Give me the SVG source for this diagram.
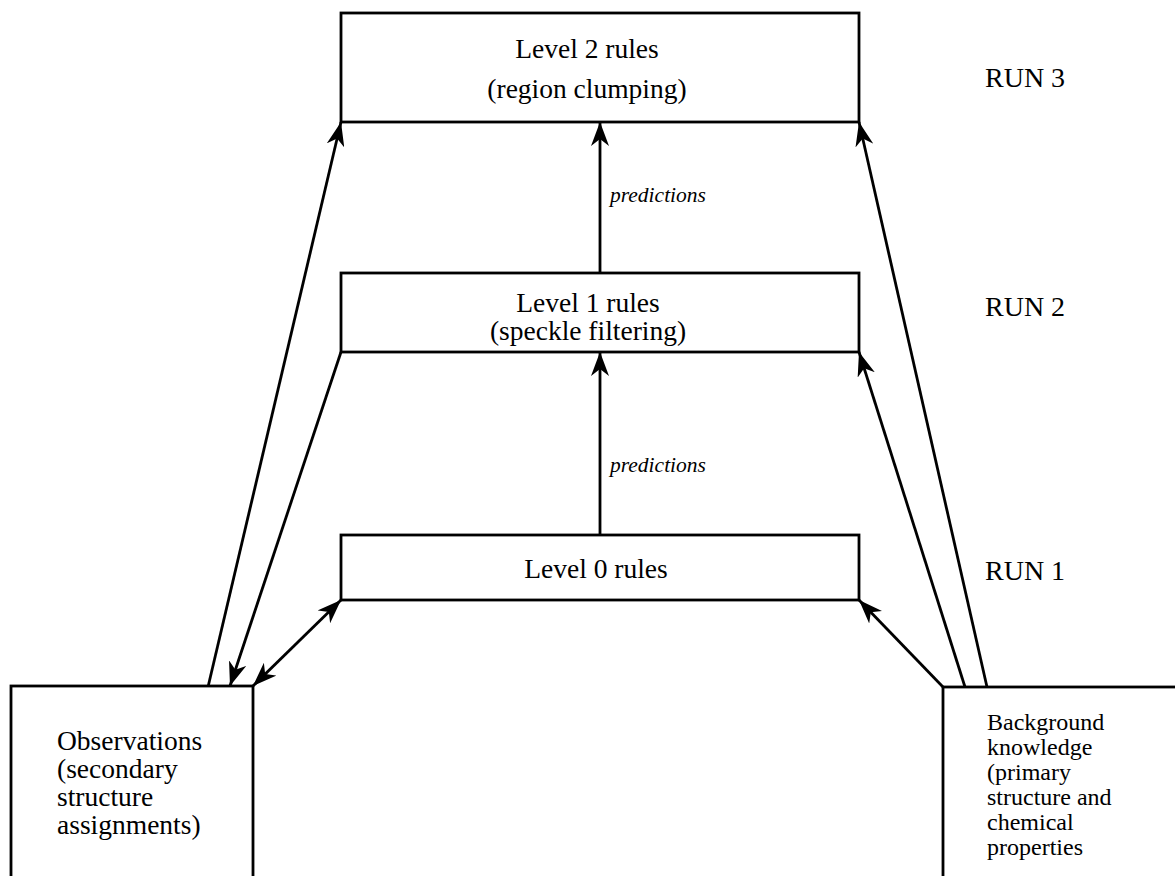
<svg xmlns="http://www.w3.org/2000/svg" width="1175" height="876" viewBox="0 0 1175 876">
<style>
.box{fill:#fff;stroke:#000;stroke-width:2.8}
.t{font-family:"Liberation Serif","Times New Roman",serif;font-size:27.5px;fill:#000}
.c{text-anchor:middle}
.i{font-style:italic;font-size:21.5px}
.s{font-size:24px}
.r{font-size:28px}
.ln{stroke:#000;stroke-width:2.8;fill:none}
</style>
<defs>
<marker id="ah" viewBox="0 0 24 18" refX="24" refY="9" markerWidth="24" markerHeight="18" markerUnits="userSpaceOnUse" orient="auto-start-reverse">
<path d="M0,0 L24,9 L0,18 L7,9 Z" fill="#000"/>
</marker>
</defs>
<rect width="1175" height="876" fill="#fff"/>
<g id="connectors">
<line class="ln" x1="208" y1="687" x2="341" y2="122" marker-end="url(#ah)"/>
<line class="ln" x1="341" y1="352" x2="230" y2="686" marker-end="url(#ah)"/>
<line class="ln" x1="253" y1="686" x2="341" y2="600" marker-start="url(#ah)" marker-end="url(#ah)"/>
<line class="ln" x1="943" y1="687" x2="859" y2="600" marker-end="url(#ah)"/>
<line class="ln" x1="965" y1="687" x2="859" y2="352" marker-end="url(#ah)"/>
<line class="ln" x1="987" y1="687" x2="859" y2="122" marker-end="url(#ah)"/>
<line class="ln" x1="600" y1="535" x2="600" y2="352" marker-end="url(#ah)"/>
<line class="ln" x1="600" y1="273" x2="600" y2="122" marker-end="url(#ah)"/>
<text class="t i" x="610" y="472">predictions</text>
<text class="t i" x="610" y="202">predictions</text>
</g>
<g id="level2">
<rect class="box" x="341" y="13" width="518" height="109"/>
<text class="t c" x="587" y="58">Level 2 rules</text>
<text class="t c" x="587" y="98">(region clumping)</text>
</g>
<g id="level1">
<rect class="box" x="341" y="273" width="518" height="79"/>
<text class="t c" x="588" y="312">Level 1 rules</text>
<text class="t c" x="588" y="340">(speckle filtering)</text>
</g>
<g id="level0">
<rect class="box" x="341" y="535" width="518" height="65"/>
<text class="t c" x="596" y="578">Level 0 rules</text>
</g>
<g id="observations">
<rect class="box" x="11" y="686" width="242" height="200"/>
<text class="t" x="57" y="750">Observations</text>
<text class="t" x="57" y="778">(secondary</text>
<text class="t" x="57" y="806">structure</text>
<text class="t" x="57" y="834">assignments)</text>
</g>
<g id="background">
<rect class="box" x="943" y="687" width="250" height="200"/>
<text class="t s" x="987" y="730">Background</text>
<text class="t s" x="987" y="755">knowledge</text>
<text class="t s" x="987" y="780">(primary</text>
<text class="t s" x="987" y="805">structure and</text>
<text class="t s" x="987" y="830">chemical</text>
<text class="t s" x="987" y="855">properties</text>
</g>
<g id="runs">
<text class="t r" x="985" y="87">RUN 3</text>
<text class="t r" x="985" y="316">RUN 2</text>
<text class="t r" x="985" y="580">RUN 1</text>
</g>
</svg>
